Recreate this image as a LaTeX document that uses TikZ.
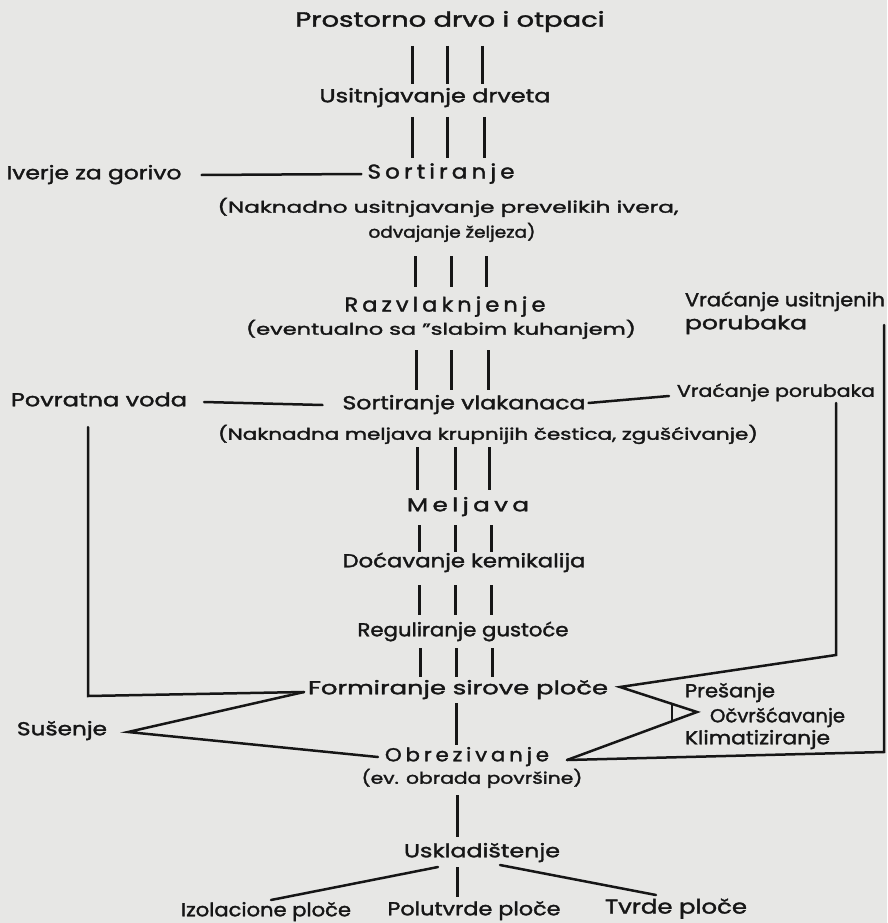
\documentclass[tikz,border=0pt]{standalone}
\usepackage{fontspec}
\setmainfont{Poppins}[FakeBold=1.6]
\newfontfamily\spc{Poppins}[LetterSpace=18,FakeBold=1.6]
\usetikzlibrary{calc}
\definecolor{paper}{RGB}{231,231,229}
\definecolor{ink}{RGB}{22,22,22}
\newcommand{\fw}[3][15]{\resizebox{#2pt}{#1pt}{\fontsize{14}{16}\selectfont\strut #3}}
\tikzset{
  txt/.style={inner sep=0pt, outer sep=0pt, text=ink},
  ln/.style={line width=2.5pt, line cap=round, line join=miter, draw=ink},
  bar/.style={line width=3pt, draw=ink},
}
\begin{document}
\begin{tikzpicture}[x=1pt,y=-1pt]
\fill[paper] (0,0) rectangle (887,923);
\useasboundingbox (0,0) rectangle (887,923);

% main column
\node[txt] (title) at (450,22) {\fw[16.5]{309}{Prostorno drvo i otpaci}};
\node[txt] (usit) at (435,98) {\fw{231}{Usitnjavanje drveta}};
\node[txt] (sort) at (441,174) {\fw[16]{147}{\spc Sortiranje}};
\node[txt] (sortn1) at (448,208) {\fw{461}{(Naknadno usitnjavanje prevelikih ivera,}};
\node[txt] (sortn2) at (452,233) {\fw{167}{odvajanje željeza)}};
\node[txt] (razv) at (445,307) {\fw[16]{201}{\spc Razvlaknjenje}};
\node[txt] (razvn) at (441,330) {\fw{390}{(eventualno sa ”slabim kuhanjem)}};
\node[txt] (sv) at (464,405) {\fw{243}{Sortiranje vlakanaca}};
\node[txt] (svn) at (488,435) {\fw{540}{(Naknadna meljava krupnijih čestica, zgušćivanje)}};
\node[txt] (melj) at (468,507) {\fw{122}{\spc Meljava}};
\node[txt] (doc) at (464,563) {\fw{243}{Doćavanje kemikalija}};
\node[txt] (reg) at (463,632) {\fw{211}{Reguliranje gustoće}};
\node[txt] (form) at (458,690) {\fw{300}{Formiranje sirove ploče}};
\node[txt] (obr) at (467,757) {\fw{164}{\spc Obrezivanje}};
\node[txt] (obrn) at (472,779) {\fw{221}{(ev. obrada površine)}};
\node[txt] (usk) at (482,853) {\fw{156}{Uskladištenje}};
\node[txt] (izo) at (266,912) {\fw{170}{Izolacione ploče}};
\node[txt] (polu) at (474,911) {\fw{173}{Polutvrde ploče}};
\node[txt] (tvrd) at (676,909) {\fw[16]{142}{Tvrde ploče}};

% side texts
\node[txt] (iver) at (94,175) {\fw{175}{Iverje za gorivo}};
\node[txt] (povr) at (99,402) {\fw{176}{Povratna voda}};
\node[txt,anchor=west] (vr1a) at (685,302) {\fw{200}{Vraćanje usitnjenih}};
\node[txt,anchor=west] (vr1b) at (685,325) {\fw{122}{porubaka}};
\node[txt] (vr2) at (776,393) {\fw[13.5]{198}{Vraćanje porubaka}};
\node[txt] (sus) at (62,731) {\fw{90}{Sušenje}};
\node[txt,anchor=west] (pres) at (685,693) {\fw{90}{Prešanje}};
\node[txt,anchor=west] (ocvr) at (710,718) {\fw{135}{Očvršćavanje}};
\node[txt,anchor=west] (klim) at (685,740) {\fw{145}{Klimatiziranje}};

% triple bars
\foreach \y/\yy/\a/\b/\c in {46/84/412/447/482, 117/158/412/447/484, 256/287/415/451/486,
  350/390/416/451/488, 447/490/417/455/489, 525/552/419/455/491, 585/615/419/455/491,
  648/677/420/456/492}{
  \draw[bar] (\a,\y) -- (\a,\yy);
  \draw[bar] (\b,\y) -- (\b,\yy);
  \draw[bar] (\c,\y) -- (\c,\yy);
}

% single connectors
\coordinate (F1) at (456,703);
\coordinate (F2) at (456,745);
\draw[bar] (F1) -- (F2);
\coordinate (O1) at (457,795);
\coordinate (O2) at (457,837);
\draw[bar] (O1) -- (O2);
\coordinate (uskL) at (438,867);
\coordinate (uskM) at (457,867);
\coordinate (uskR) at (500,865);
\draw[ln] (uskL) -- (271,900);
\draw[bar] (uskM) -- (457,897);
\draw[ln] (uskR) -- (656,895);

% horizontal side connectors
\draw[ln] ([xshift=20pt]iver.east) -- ([xshift=-6pt]sort.west);
\draw[ln] ([xshift=17pt]povr.east) -- ([xshift=-20pt]sv.west);
\draw[ln] ([xshift=3pt,yshift=2pt]sv.east) -- ([xshift=-8pt,yshift=-3pt]vr2.west);

% left return loop
\coordinate (L1) at (88,427);
\coordinate (L2) at (88,696);
\coordinate (FW) at (304,692);
\draw[ln] (L1) -- (L2) -- (FW);
% drying
\coordinate (SP) at (128,732);
\coordinate (OW) at (378,757);
\draw[ln] (FW) -- (SP) -- (OW);

% right loops
\coordinate (R1) at (836,403);
\coordinate (R2) at (836,655);
\coordinate (FE) at (620,687);
\coordinate (AP) at (697,712);
\coordinate (OT) at (567,760);
\draw[ln] (R1) -- (R2) -- (FE) -- (AP) -- (OT);
\draw[ln] (672,705) -- (672,721);
\coordinate (RR1) at (884,325);
\coordinate (RR2) at (884,752);
\draw[ln] (RR1) -- (RR2) -- (OT);
\end{tikzpicture}
\end{document}
